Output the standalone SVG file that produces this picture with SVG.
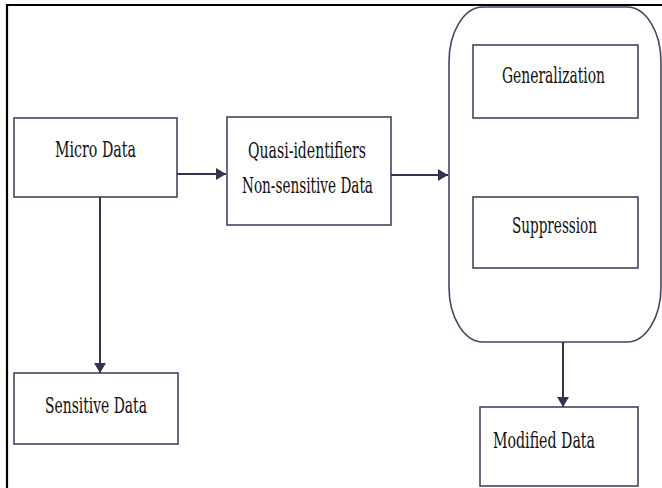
<svg xmlns="http://www.w3.org/2000/svg" width="662" height="488" viewBox="0 0 662 488">
<defs>
<style>
.box{fill:#fff;stroke:#4a4262;stroke-width:1.6}
.lbl{font-family:'DejaVu Serif','Liberation Serif',serif;font-size:23px;fill:#111}
.conn{stroke:#3a3052;stroke-width:2;fill:none}
</style>
<marker id="ah" viewBox="0 0 10 10" refX="10" refY="5" markerWidth="10" markerHeight="12" markerUnits="userSpaceOnUse" orient="auto-start-reverse" preserveAspectRatio="none">
<path d="M0,0 L10,5 L0,10 Z" fill="#3a3052"/>
</marker>
</defs>
<rect width="662" height="488" fill="#fff"/>
<path d="M7,488 V5 H662" fill="none" stroke="#000" stroke-width="2.2"/>
<g id="container">
<rect class="box" x="449" y="7" width="212" height="335" rx="34" ry="55"/>
</g>
<g id="micro-data">
<rect class="box" x="14" y="118" width="163" height="79"/>
<text class="lbl" transform="translate(55,157) scale(0.65,1)" textLength="124.6" lengthAdjust="spacingAndGlyphs">Micro Data</text>
</g>
<g id="quasi">
<rect class="box" x="227" y="117" width="164" height="108"/>
<text class="lbl" transform="translate(248,158) scale(0.65,1)" textLength="181.5" lengthAdjust="spacingAndGlyphs">Quasi-identifiers</text>
<text class="lbl" transform="translate(242,193) scale(0.65,1)" textLength="201.5" lengthAdjust="spacingAndGlyphs">Non-sensitive Data</text>
</g>
<g id="sensitive-data">
<rect class="box" x="14" y="373" width="164" height="71"/>
<text class="lbl" transform="translate(45,413) scale(0.65,1)" textLength="156.9" lengthAdjust="spacingAndGlyphs">Sensitive Data</text>
</g>
<g id="generalization">
<rect class="box" x="473" y="45" width="165" height="73"/>
<text class="lbl" transform="translate(502,83) scale(0.65,1)" textLength="158.5" lengthAdjust="spacingAndGlyphs">Generalization</text>
</g>
<g id="suppression">
<rect class="box" x="473" y="197" width="165" height="71"/>
<text class="lbl" transform="translate(512,233) scale(0.65,1)" textLength="130.8" lengthAdjust="spacingAndGlyphs">Suppression</text>
</g>
<g id="modified-data">
<rect class="box" x="480" y="407" width="158" height="79"/>
<text class="lbl" transform="translate(493,448) scale(0.65,1)" textLength="156.9" lengthAdjust="spacingAndGlyphs">Modified Data</text>
</g>
<g id="connectors">
<line class="conn" x1="177" y1="174" x2="226" y2="174" marker-end="url(#ah)"/>
<line class="conn" x1="391" y1="175" x2="448" y2="175" marker-end="url(#ah)"/>
<line class="conn" x1="100" y1="197" x2="100" y2="373" marker-end="url(#ah)"/>
<line class="conn" x1="563" y1="342" x2="563" y2="407" marker-end="url(#ah)"/>
</g>
</svg>
